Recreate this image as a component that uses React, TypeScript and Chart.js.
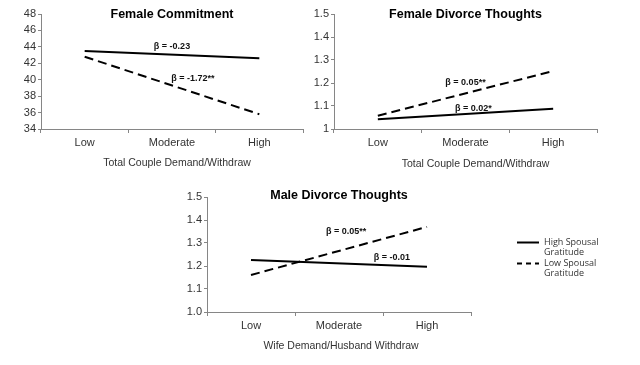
import React, { useEffect, useRef } from 'react';
import { Chart, registerables } from 'chart.js';

Chart.register(...registerables);

const FONT = '"Liberation Sans", Arial, Helvetica, sans-serif';

const categories = ['Low', 'Moderate', 'High'];
const seriesNames = ['High Spousal Gratitude', 'Low Spousal Gratitude'];

// Female Commitment (Low, Moderate, High) – lines drawn Low→High
const femaleCommitmentHigh = [43.5, null, 42.6];
const femaleCommitmentLow = [42.8, null, 35.8];
const femaleCommitmentTicks = ['34', '36', '38', '40', '42', '44', '46', '48'];

// Female Divorce Thoughts
const femaleDivorceHigh = [1.042, null, 1.088];
const femaleDivorceLow = [1.058, null, 1.252];
const femaleDivorceTicks = ['1', '1.1', '1.2', '1.3', '1.4', '1.5'];

// Male Divorce Thoughts
const maleDivorceHigh = [1.226, null, 1.197];
const maleDivorceLow = [1.161, null, 1.37];
const maleDivorceTicks = ['1.0', '1.1', '1.2', '1.3', '1.4', '1.5'];

const femaleCommitmentBetas = [
  { text: 'β = -0.23', x: 1.0, y: 44.1 },
  { text: 'β = -1.72**', x: 1.24, y: 40.1 },
];
const femaleDivorceBetas = [
  { text: 'β = 0.05**', x: 1.0, y: 1.204 },
  { text: 'β = 0.02*', x: 1.09, y: 1.091 },
];
const maleDivorceBetas = [
  { text: 'β = 0.05**', x: 1.08, y: 1.348 },
  { text: 'β = -0.01', x: 1.6, y: 1.235 },
];

const AXIS = '#868686';
const TEXT = '#333333';

const textPlugin = {
  id: 'texts',
  afterDraw(chart: any, _args: any, opts: any) {
    const { ctx, chartArea, scales } = chart;
    const cx = (chartArea.left + chartArea.right) / 2;
    ctx.save();
    ctx.textAlign = 'center';
    ctx.textBaseline = 'middle';
    // chart title
    ctx.font = `bold 12.5px ${FONT}`;
    ctx.fillStyle = '#000';
    ctx.fillText(opts.title, cx, chartArea.top + (opts.titleDy || 0));
    // x-axis title
    ctx.font = `10.5px ${FONT}`;
    ctx.fillStyle = TEXT;
    ctx.fillText(opts.xTitle, cx + (opts.xTitleDx || 0), chartArea.bottom + opts.xTitleDy);
    // beta annotations
    ctx.font = `bold 9px ${FONT}`;
    ctx.fillStyle = '#111';
    for (const b of opts.betas) {
      ctx.fillText(b.text, scales.x.getPixelForValue(b.x), scales.y.getPixelForValue(b.y));
    }
    // legend
    if (opts.legend) {
      const lg = opts.legend;
      ctx.textAlign = 'left';
      ctx.font = `9px "Open Sans", ${FONT}`;
      chart.data.datasets.forEach((ds: any, i: number) => {
        const y = lg.y + i * lg.itemGap;
        ctx.beginPath();
        ctx.strokeStyle = ds.borderColor;
        ctx.lineWidth = 2;
        ctx.setLineDash(ds.borderDash && ds.borderDash.length ? [5, 4] : []);
        ctx.moveTo(lg.x, y);
        ctx.lineTo(lg.x + lg.lineLen, y);
        ctx.stroke();
        ctx.setLineDash([]);
        const label: string = ds.label;
        const cut = label.lastIndexOf(' ');
        const lines = [label.slice(0, cut), label.slice(cut + 1)];
        ctx.fillStyle = TEXT;
        lines.forEach((t, j) => ctx.fillText(t, lg.x + lg.lineLen + 5, y + j * lg.lineGap));
      });
    }
    ctx.restore();
  },
};

type Cfg = {
  high: (number | null)[];
  low: (number | null)[];
  min: number;
  max: number;
  step: number;
  tickLabels: string[];
  yWidth: number;
  xHeight: number;
  padTop: number;
  padRight: number;
  title: string;
  titleDy?: number;
  xTitle: string;
  xTitleDx: number;
  xTitleDy: number;
  betas: { text: string; x: number; y: number }[];
  legend?: any;
};

function LineChart({ cfg, left, top, width, height }: { cfg: Cfg; left: number; top: number; width: number; height: number }) {
  const ref = useRef<HTMLCanvasElement>(null);
  useEffect(() => {
    if (!ref.current) return;
    const chart = new Chart(ref.current, {
      type: 'line',
      data: {
        labels: categories,
        datasets: [
          {
            label: seriesNames[0],
            data: cfg.high,
            borderColor: '#000',
            borderWidth: 2,
            pointRadius: 0,
            spanGaps: true,
            fill: false,
          },
          {
            label: seriesNames[1],
            data: cfg.low,
            borderColor: '#000',
            borderWidth: 2,
            borderDash: [9, 5],
            pointRadius: 0,
            spanGaps: true,
            fill: false,
          },
        ],
      },
      options: {
        responsive: false,
        animation: false,
        devicePixelRatio: 1,
        layout: { padding: { top: cfg.padTop, right: cfg.padRight, left: 0, bottom: 0 } },
        plugins: {
          legend: { display: false },
          tooltip: { enabled: false },
          title: { display: false },
          texts: {
            title: cfg.title,
            titleDy: cfg.titleDy,
            xTitle: cfg.xTitle,
            xTitleDx: cfg.xTitleDx,
            xTitleDy: cfg.xTitleDy,
            betas: cfg.betas,
            legend: cfg.legend,
          },
        } as any,
        scales: {
          x: {
            type: 'category',
            offset: true,
            grid: { offset: true, drawOnChartArea: false, drawTicks: true, tickLength: 4, color: AXIS },
            border: { color: AXIS, width: 1 },
            ticks: { color: TEXT, font: { size: 11, family: FONT }, padding: 3, maxRotation: 0 },
            afterFit: (s: any) => { s.height = cfg.xHeight; },
          },
          y: {
            min: cfg.min,
            max: cfg.max,
            grid: { drawOnChartArea: false, drawTicks: true, tickLength: 3, color: AXIS },
            border: { color: AXIS, width: 1 },
            ticks: {
              stepSize: cfg.step,
              color: TEXT,
              font: { size: 11, family: FONT },
              padding: 2,
              callback: (_v: any, i: number) => cfg.tickLabels[i],
            },
            afterFit: (s: any) => { s.width = cfg.yWidth; },
          },
        },
      },
      plugins: [textPlugin],
    });
    return () => chart.destroy();
  }, [cfg]);
  return (
    <canvas
      ref={ref}
      width={width}
      height={height}
      style={{ position: 'absolute', left, top, width, height }}
    />
  );
}

const cfg1: Cfg = {
  high: femaleCommitmentHigh,
  low: femaleCommitmentLow,
  min: 34, max: 48, step: 2,
  tickLabels: femaleCommitmentTicks,
  yWidth: 41, xHeight: 51, padTop: 14, padRight: 17,
  title: 'Female Commitment', titleDy: 1,
  xTitle: 'Total Couple Demand/Withdraw', xTitleDx: 5, xTitleDy: 34,
  betas: femaleCommitmentBetas,
};
const cfg2: Cfg = {
  high: femaleDivorceHigh,
  low: femaleDivorceLow,
  min: 1, max: 1.5, step: 0.1,
  tickLabels: femaleDivorceTicks,
  yWidth: 34, xHeight: 51, padTop: 14, padRight: 43,
  title: 'Female Divorce Thoughts', titleDy: 1,
  xTitle: 'Total Couple Demand/Withdraw', xTitleDx: 10, xTitleDy: 35,
  betas: femaleDivorceBetas,
};
const cfg3: Cfg = {
  high: maleDivorceHigh,
  low: maleDivorceLow,
  min: 1, max: 1.5, step: 0.1,
  tickLabels: maleDivorceTicks,
  yWidth: 47, xHeight: 53, padTop: 17, padRight: 169,
  title: 'Male Divorce Thoughts', titleDy: -1,
  xTitle: 'Wife Demand/Husband Withdraw', xTitleDx: 2, xTitleDy: 34,
  betas: maleDivorceBetas,
  legend: { x: 357, y: 62.5, lineLen: 22, itemGap: 21, lineGap: 10.3 },
};

export default function App() {
  return (
    <div style={{ position: 'absolute', left: 0, top: 0, width: 640, height: 365, background: '#fff', overflow: 'hidden' }}>
      <LineChart cfg={cfg1} left={0} top={0} width={320} height={180} />
      <LineChart cfg={cfg2} left={300} top={0} width={340} height={180} />
      <LineChart cfg={cfg3} left={160} top={180} width={480} height={185} />
    </div>
  );
}
